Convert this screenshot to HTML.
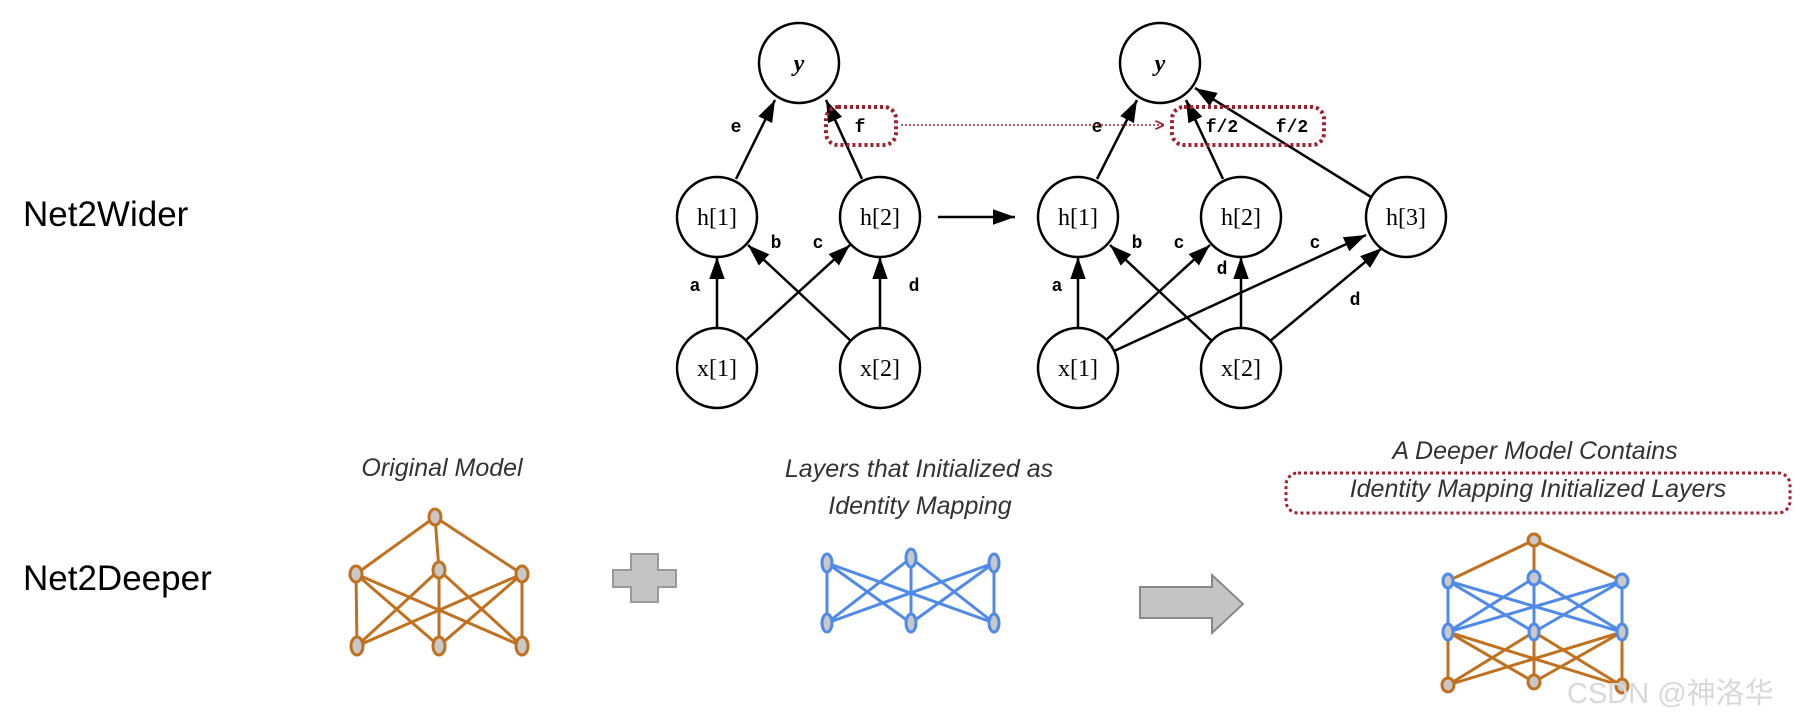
<!DOCTYPE html>
<html><head><meta charset="utf-8"><style>
html,body{margin:0;padding:0;background:#fff;}
svg{display:block;}
</style></head><body>
<svg width="1809" height="724" viewBox="0 0 1809 724" xmlns="http://www.w3.org/2000/svg">
<defs>
<marker id="ah" viewBox="0 0 10 10" refX="10" refY="5" markerWidth="22" markerHeight="22" markerUnits="userSpaceOnUse" orient="auto"><path d="M0,1.5 L10,5 L0,8.5 z" fill="#000"/></marker>
<marker id="ar" viewBox="0 0 10 10" refX="10" refY="5" markerWidth="9" markerHeight="9" markerUnits="userSpaceOnUse" orient="auto"><path d="M0,0 L10,5 L0,10" fill="none" stroke="#a0202c" stroke-width="2"/></marker>
</defs>
<g font-family="Liberation Sans, sans-serif" font-size="35" fill="#000">
<text x="23" y="226">Net2Wider</text>
<text x="23" y="590">Net2Deeper</text>
</g>
<g stroke="#000" stroke-width="2.5" fill="none" marker-end="url(#ah)">
<line x1="736" y1="179" x2="775" y2="100"/>
<line x1="862" y1="179" x2="826" y2="100"/>
<line x1="717" y1="328" x2="717" y2="257"/>
<line x1="880" y1="328" x2="880" y2="257"/>
<line x1="745" y1="341" x2="850" y2="245"/>
<line x1="851" y1="341" x2="748" y2="245"/>
<line x1="938" y1="217" x2="1015" y2="217"/>
<line x1="1097" y1="179" x2="1137" y2="100"/>
<line x1="1223" y1="179" x2="1186" y2="100"/>
<line x1="1371" y1="197" x2="1195" y2="88"/>
<line x1="1078" y1="328" x2="1078" y2="257"/>
<line x1="1241" y1="328" x2="1241" y2="257"/>
<line x1="1105" y1="341" x2="1210" y2="245"/>
<line x1="1212" y1="341" x2="1110" y2="245"/>
<line x1="1112" y1="352" x2="1366" y2="235"/>
<line x1="1270" y1="341" x2="1382" y2="248"/>
</g>
<g stroke="#000" stroke-width="2.5" fill="#fff">
<circle cx="799" cy="63" r="40"/><circle cx="717" cy="217" r="40"/><circle cx="880" cy="217" r="40"/>
<circle cx="717" cy="368" r="40"/><circle cx="880" cy="368" r="40"/>
<circle cx="1160" cy="63" r="40"/><circle cx="1078" cy="217" r="40"/><circle cx="1241" cy="217" r="40"/><circle cx="1406" cy="217" r="40"/>
<circle cx="1078" cy="368" r="40"/><circle cx="1241" cy="368" r="40"/>
</g>
<g font-family="Liberation Serif, serif" font-size="24" text-anchor="middle" fill="#000">
<text x="799" y="71" font-style="italic" font-weight="bold">y</text>
<text x="1160" y="71" font-style="italic" font-weight="bold">y</text>
<text x="717" y="225">h[1]</text><text x="880" y="225">h[2]</text>
<text x="1078" y="225">h[1]</text><text x="1241" y="225">h[2]</text><text x="1406" y="225">h[3]</text>
<text x="717" y="376">x[1]</text><text x="880" y="376">x[2]</text>
<text x="1078" y="376">x[1]</text><text x="1241" y="376">x[2]</text>
</g>
<g font-family="Liberation Mono, monospace" font-size="18" font-weight="bold" text-anchor="middle" fill="#000">
<text x="736" y="132">e</text><text x="860" y="132">f</text>
<text x="1097" y="132">e</text><text x="1222" y="132">f/2</text><text x="1292" y="132">f/2</text>
<text x="776" y="248">b</text><text x="818" y="248">c</text><text x="695" y="291">a</text><text x="914" y="291">d</text>
<text x="1137" y="248">b</text><text x="1179" y="248">c</text><text x="1315" y="248">c</text>
<text x="1222" y="274">d</text><text x="1057" y="291">a</text><text x="1355" y="305">d</text>
</g>
<g stroke="#a0202c" fill="none">
<rect x="826" y="107" width="70" height="38" rx="12" stroke-width="4" stroke-dasharray="3 3"/>
<rect x="1172" y="107" width="152" height="38" rx="12" stroke-width="4" stroke-dasharray="3 3"/>
<line x1="901" y1="125" x2="1164" y2="125" stroke-width="1.5" stroke-dasharray="2 2" marker-end="url(#ar)"/>
<rect x="1286" y="473" width="504" height="40" rx="12" stroke-width="3" stroke-dasharray="3 3"/>
</g>
<g font-family="Liberation Sans, sans-serif" font-size="25" font-style="italic" fill="#333" text-anchor="middle">
<text x="442" y="476">Original Model</text>
<text x="919" y="477">Layers  that Initialized as</text>
<text x="920" y="514">Identity Mapping</text>
<text x="1535" y="459">A Deeper Model Contains</text>
<text x="1538" y="497">Identity Mapping Initialized Layers</text>
</g>
<g stroke="#c0701e" stroke-width="3" fill="none">
<path d="M435 517 L356 574 M435 517 L439 570 M435 517 L522 574"/>
<path d="M356 574 L357 646 M356 574 L439 646 M356 574 L522 646 M439 570 L357 646 M439 570 L439 646 M439 570 L522 646 M522 574 L357 646 M522 574 L439 646 M522 574 L522 646"/>
</g>
<g stroke="#c0701e" stroke-width="3" fill="#c8c8c8">
<ellipse cx="435" cy="517" rx="6" ry="8"/><ellipse cx="356" cy="574" rx="6" ry="8"/><ellipse cx="439" cy="570" rx="6" ry="8"/><ellipse cx="522" cy="574" rx="6" ry="8"/>
<ellipse cx="357" cy="646" rx="6" ry="9"/><ellipse cx="439" cy="646" rx="6" ry="9"/><ellipse cx="522" cy="646" rx="6" ry="9"/>
</g>
<path d="M631 554 h27 v16 h18 v17 h-18 v15 h-27 v-15 h-18 v-17 h18 z" fill="#c4c4c4" stroke="#999" stroke-width="2"/>
<g stroke="#4f8ae8" stroke-width="3" fill="none">
<path d="M827 563 L827 623 M827 563 L911 623 M827 563 L994 623 M911 558 L827 623 M911 558 L911 623 M911 558 L994 623 M994 563 L827 623 M994 563 L911 623 M994 563 L994 623"/>
</g>
<g stroke="#4f8ae8" stroke-width="3" fill="#c8c8c8">
<ellipse cx="827" cy="563" rx="5" ry="9"/><ellipse cx="911" cy="558" rx="5" ry="9"/><ellipse cx="994" cy="563" rx="5" ry="9"/>
<ellipse cx="827" cy="623" rx="5" ry="9"/><ellipse cx="911" cy="623" rx="5" ry="9"/><ellipse cx="994" cy="623" rx="5" ry="9"/>
</g>
<path d="M1140 587 h72 v-12 l31 29 l-31 29 v-15 h-72 z" fill="#c4c4c4" stroke="#888" stroke-width="2"/>
<g stroke="#c0701e" stroke-width="3" fill="none">
<path d="M1534 540 L1448 581 M1534 540 L1534 578 M1534 540 L1622 581"/>
<path d="M1448 632 L1448 685 M1448 632 L1534 682 M1448 632 L1622 686 M1534 632 L1448 685 M1534 632 L1534 682 M1534 632 L1622 686 M1622 632 L1448 685 M1622 632 L1534 682 M1622 632 L1622 686"/>
</g>
<g stroke="#4f8ae8" stroke-width="3" fill="none">
<path d="M1448 581 L1448 632 M1448 581 L1534 632 M1448 581 L1622 632 M1534 578 L1448 632 M1534 578 L1534 632 M1534 578 L1622 632 M1622 581 L1448 632 M1622 581 L1534 632 M1622 581 L1622 632"/>
</g>
<g stroke="#c0701e" stroke-width="3" fill="#c8c8c8">
<ellipse cx="1534" cy="540" rx="6" ry="6"/>
<ellipse cx="1448" cy="685" rx="6" ry="7"/><ellipse cx="1534" cy="682" rx="6" ry="7"/><ellipse cx="1622" cy="686" rx="6" ry="7"/>
</g>
<g stroke="#4f8ae8" stroke-width="3" fill="#c8c8c8">
<ellipse cx="1448" cy="581" rx="5" ry="7"/><ellipse cx="1534" cy="578" rx="6" ry="7"/><ellipse cx="1622" cy="581" rx="6" ry="7"/>
<ellipse cx="1448" cy="632" rx="5" ry="8"/><ellipse cx="1534" cy="632" rx="5" ry="8"/><ellipse cx="1622" cy="632" rx="5" ry="8"/>
</g>
<text x="1567" y="703" font-family="Liberation Sans, 'Noto Sans CJK SC', sans-serif" font-size="29" fill="#d8d8d8">CSDN @神洛华</text>
</svg>
</body></html>
